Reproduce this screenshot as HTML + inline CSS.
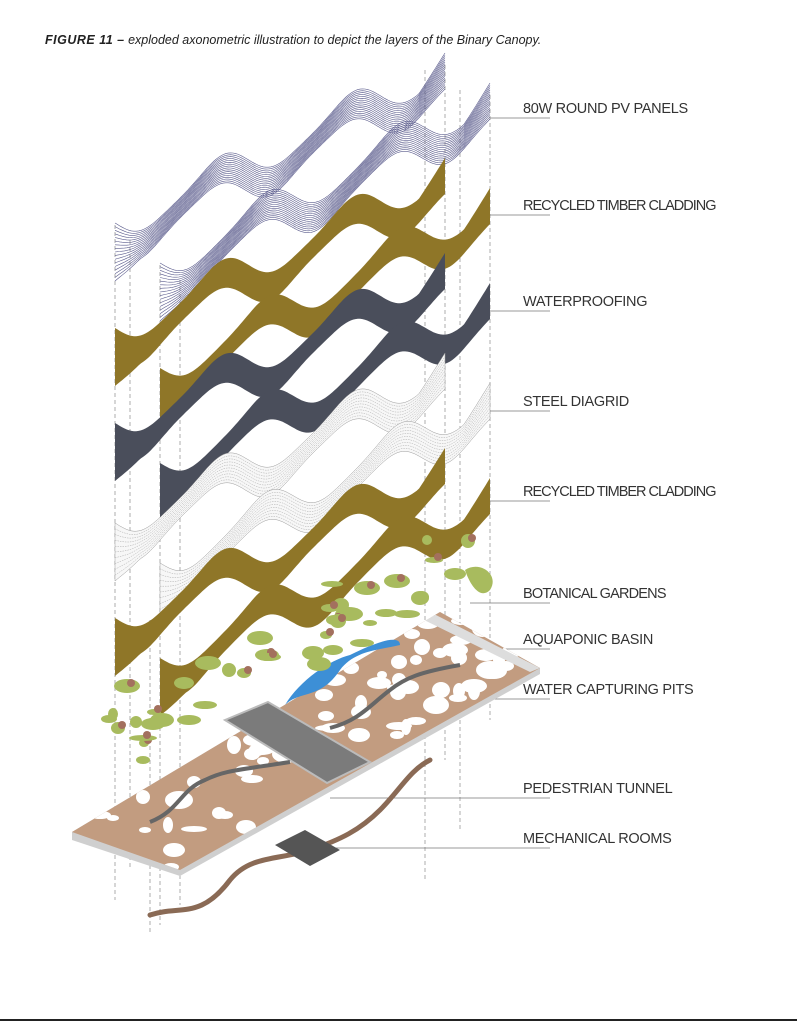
<!DOCTYPE html>
<html><head><meta charset="utf-8"><style>
html,body{margin:0;padding:0;background:#fff;}
body{width:797px;height:1024px;position:relative;overflow:hidden;font-family:"Liberation Sans",sans-serif;}
.t{position:absolute;left:45px;top:33px;font-size:12.5px;font-style:italic;color:#222;}
.t b{font-weight:900;letter-spacing:0.5px}
.l{position:absolute;left:523px;font-size:14.5px;color:#333;white-space:nowrap;letter-spacing:-0.3px}
svg{position:absolute;left:0;top:0}
</style></head><body>
<div class="t"><b>FIGURE 11 –</b> exploded axonometric illustration to depict the layers of the Binary Canopy.</div>
<svg id="s" width="797" height="1024" viewBox="0 0 797 1024"></svg>
<div class="l" style="top:101px">80W ROUND PV PANELS</div>
<div class="l" style="top:198px;letter-spacing:-1px">RECYCLED TIMBER CLADDING</div>
<div class="l" style="top:294px">WATERPROOFING</div>
<div class="l" style="top:394px">STEEL DIAGRID</div>
<div class="l" style="top:484px;letter-spacing:-1px">RECYCLED TIMBER CLADDING</div>
<div class="l" style="top:586px;letter-spacing:-0.8px">BOTANICAL GARDENS</div>
<div class="l" style="top:632px">AQUAPONIC BASIN</div>
<div class="l" style="top:682px">WATER CAPTURING PITS</div>
<div class="l" style="top:781px">PEDESTRIAN TUNNEL</div>
<div class="l" style="top:831px">MECHANICAL ROOMS</div>
<script>
var s=document.getElementById('s'),h='';
var seed=7;function r(){seed=(seed*16807)%2147483647;return seed/2147483647;}
[[115,225,900],[130,240,870],[160,265,925],[180,280,905],[150,620,935],[425,70,880],[445,65,760],[460,90,830],[490,95,720]].forEach(function(v){h+='<line x1="'+v[0]+'" y1="'+v[1]+'" x2="'+v[0]+'" y2="'+v[2]+'" stroke="#999" stroke-width="0.8" stroke-dasharray="4,3"/>';});
[[490,118],[490,215],[490,311],[490,411],[490,501],[470,603],[400,649],[420,699],[330,798],[330,848]].forEach(function(v){h+='<line x1="'+v[0]+'" y1="'+v[1]+'" x2="550" y2="'+v[1]+'" stroke="#777" stroke-width="0.8"/>';});
function P(a){return a.map(function(p){return p[0].toFixed(1)+','+p[1].toFixed(1)}).join('L');}
function rib(ax,ay,bx,by,fill,mode){
 var top=[],bot=[],N=140;
 for(var i=0;i<=N;i++){var t=i/N;var ph=2*Math.PI*2.5*t;
  var x=ax+(bx-ax)*t,y=ay+14+(by-ay)*t+17*Math.sin(ph)+3*Math.sin(2*ph);
  var w=13+3*Math.cos(ph);
  var tb=t<0.08?26*Math.pow(1-t/0.08,1.5):0;
  var tt=t>0.92?16*(t-0.92)/0.08:0;
  top.push([x,y-w-tt]);bot.push([x,y+w+tb]);}
 var rb=bot.slice().reverse();
 var d='M'+P(top)+'L'+P(rb)+'Z';
 if(mode=='lines'){
  for(var k=0;k<=16;k++){var q=[];for(var i=0;i<=N;i++){q.push([top[i][0],top[i][1]+(bot[i][1]-top[i][1])*k/16]);}h+='<path d="M'+P(q)+'" fill="none" stroke="#5a5b8c" stroke-width="0.6"/>';}}
 else if(mode=='mesh'){h+='<path d="'+d+'" fill="#f7f7f7" stroke="#999" stroke-width="0.5"/>';
  for(var k=1;k<10;k++){var q=[];for(var i=0;i<=N;i++){q.push([top[i][0],top[i][1]+(bot[i][1]-top[i][1])*k/10]);}h+='<path d="M'+P(q)+'" fill="none" stroke="#aaa" stroke-width="0.5" stroke-dasharray="1.5,1"/>';}}
 else h+='<path d="'+d+'" fill="'+fill+'"/>';
}
function layer(dy,fill,mode){rib(115,225+dy,445,65+dy,fill,mode);rib(160,265+dy,490,95+dy,fill,mode);}
layer(0,'','lines');layer(105,'#8f7628');layer(200,'#4a4e5b');layer(300,'','mesh');layer(395,'#8f7628');
h+='<path d="M72,832 L440,612 L540,668 L540,674 L180,876 L72,840Z" fill="#cfcfcf"/>';
h+='<defs><clipPath id="c"><path d="M72,832 L440,612 L540,668 L180,870Z"/></clipPath></defs>';
h+='<path d="M72,832 L440,612 L540,668 L180,870Z" fill="#c29c80"/>';
h+='<g clip-path="url(#c)">';
for(var i=0;i<70;i++){var t=r(),u=r();var x=72+(440-72)*t+(180-72)*u,y=832+(612-832)*t+(870-832)*u;h+='<ellipse cx="'+x.toFixed(0)+'" cy="'+y.toFixed(0)+'" rx="'+(5+r()*9).toFixed(0)+'" ry="'+(3+r()*6).toFixed(0)+'" fill="#fff"/>';}
h+='<path d="M430,612 L540,668 L530,672 L420,618Z" fill="#ddd"/>';
h+='</g>';
h+='<path d="M225,720 L268,702 L370,762 L327,783Z" fill="#7b7b7b" stroke="#bbb" stroke-width="2"/>';
h+='<path d="M285,705 C300,690 320,700 340,670 C355,650 380,650 400,645 C400,635 380,640 350,655 C330,660 300,680 285,705Z" fill="#3d8fd6"/>';
h+='<path d="M150,822 C180,810 180,790 205,780 C225,770 240,770 290,762" fill="none" stroke="#666" stroke-width="4"/>';
h+='<path d="M330,728 C360,720 370,705 390,690 C405,678 420,672 460,665" fill="none" stroke="#666" stroke-width="4"/>';
for(var i=0;i<45;i++){var t=r();var x=120+t*340+(r()-0.5)*80,y=740-t*190+(r()-0.5)*60;if(x>230&&y>690)continue;h+='<ellipse cx="'+x.toFixed(0)+'" cy="'+y.toFixed(0)+'" rx="'+(5+r()*9).toFixed(0)+'" ry="'+(3+r()*5).toFixed(0)+'" fill="#a8bb5e"/>';if(r()<0.4)h+='<circle cx="'+(x+4).toFixed(0)+'" cy="'+(y-3).toFixed(0)+'" r="4" fill="#a3705e"/>';}
h+='<path d="M465,570 C480,560 500,575 490,590 C480,600 470,585 465,570Z" fill="#a8bb5e"/>';
h+='<path d="M150,915 C180,905 200,920 230,880 C250,855 280,860 310,850 C340,840 360,830 380,810 C400,790 410,770 430,760" fill="none" stroke="#8a6a55" stroke-width="5" stroke-linecap="round"/>';
h+='<path d="M275,845 L305,830 L340,850 L310,866Z" fill="#555"/>';
s.innerHTML=h;
</script>
<div style="position:absolute;left:0;top:1019px;width:797px;height:2px;background:#222"></div>
</body></html>
